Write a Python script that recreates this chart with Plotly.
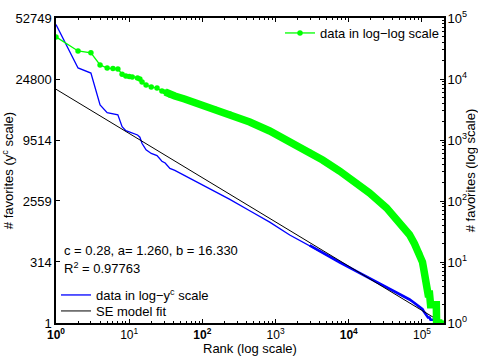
import numpy as np
import plotly.graph_objects as go

# ---- fit parameters (from the chart text) ----
c_exp = 0.28
a_fit = 1.260
b_fit = 16.330
r2_val = 0.97763

# ---- data: rank vs number of favorites ----
rank = [1, 2, 3, 4, 5, 6, 7, 8, 9, 10, 11, 13, 14, 15, 17, 20, 24, 28, 31, 36, 42,
        57, 92, 148, 237, 443, 831, 1560, 2920, 4390, 7490, 12800, 19200, 32800,
        49300, 67600, 79000, 92500, 101600, 105000, 109000, 112000, 116000,
        121000, 127000, 131000, 145000, 157000, 158500, 168000, 178000, 190000]
favorites = [49000, 28800, 26900, 17000, 15100, 14900, 14600, 12000, 11200, 11000,
             10800, 10400, 10000, 8930, 7940, 7400, 7110, 6350, 6120, 5470, 5250,
             4700, 3890, 3220, 2670, 1970, 1406, 927, 635, 470, 310, 197, 135, 77,
             45, 28, 20, 14, 10, 8, 6, 5, 4,
             3, 3, 2, 2, 2, 1, 1, 1, 1]

left_tick_labels = [1, 314, 2559, 9514, 24800, 52749]
log_tick_exps = [0, 1, 2, 3, 4, 5]
x_max = 2e5

rank = np.array(rank, dtype=float)
favorites = np.array(favorites, dtype=float)
fav_c = favorites ** c_exp
fit_x = np.array([rank[0], rank[-1]])
fit_y = b_fit - a_fit * np.log(fit_x)

band = rank >= 31
blue_band = rank >= 2900

FONT = "Liberation Sans, Arial, Helvetica, sans-serif"
GREEN = "#00ff00"
BLUE = "#0000ff"
FS = 13

fig = go.Figure()
fig.add_trace(go.Scatter(x=rank[blue_band], y=fav_c[blue_band], mode="lines",
                         line=dict(color=BLUE, width=2.6), showlegend=False,
                         hoverinfo="skip"))
fig.add_trace(go.Scatter(x=rank, y=fav_c, mode="lines",
                         name="data in log\u2212y<sup>c</sup> scale",
                         line=dict(color=BLUE, width=1.3), legend="legend2"))
fig.add_trace(go.Scatter(x=fit_x, y=fit_y, mode="lines", name="SE model fit",
                         line=dict(color="black", width=1), legend="legend3"))
fig.add_trace(go.Scatter(x=rank[band], y=favorites[band], yaxis="y2", mode="lines",
                         line=dict(color=GREEN, width=7.5), showlegend=False,
                         hoverinfo="skip"))
fig.add_trace(go.Scatter(x=rank, y=favorites, yaxis="y2", mode="lines+markers",
                         name="data in log\u2212log scale",
                         line=dict(color=GREEN, width=1.3),
                         marker=dict(color=GREEN, size=5.5), legend="legend"))

x_ticktext = []
for e in log_tick_exps:
    t = f"10<sup>{e}</sup>"
    if e in (0, 2, 4):
        t = f"<b>{t}</b>"
    x_ticktext.append(t)

minor_vals = [m * 10 ** e for e in range(0, 6) for m in range(2, 10) if m * 10 ** e <= x_max]

legend_common = dict(bgcolor="rgba(0,0,0,0)", borderwidth=0, font=dict(size=FS),
                     itemwidth=30)

fig.update_layout(
    width=478, height=357,
    margin=dict(l=56, r=34, t=18, b=34, autoexpand=False),
    paper_bgcolor="white", plot_bgcolor="white",
    font=dict(family=FONT, size=FS, color="black"),
    xaxis=dict(type="log", range=[0, np.log10(x_max)], automargin=False,
               tickmode="array", tickvals=[10 ** e for e in log_tick_exps],
               ticktext=x_ticktext, ticks="inside", ticklen=4, tickcolor="black",
               ticklabelstandoff=0, tickfont=dict(size=12),
               showline=True, linecolor="black", linewidth=1.5, mirror="ticks",
               showgrid=False, zeroline=False,
               minor=dict(tickmode="array", tickvals=minor_vals, ticks="inside",
                          ticklen=2, tickcolor="black", showgrid=False)),
    yaxis=dict(range=[1, 52749 ** c_exp], tickmode="array", automargin=False,
               tickvals=[v ** c_exp for v in left_tick_labels],
               ticktext=[str(v) for v in left_tick_labels],
               ticks="inside", ticklen=4, tickcolor="black",
               showline=True, linecolor="black", linewidth=1.5, mirror=True,
               showgrid=False, zeroline=False,
               title=dict(text="# favorites (y<sup>c</sup> scale)", standoff=5,
                          font=dict(size=FS))),
    yaxis2=dict(type="log", range=[0, 5], overlaying="y", side="right",
                automargin=False,
                tickmode="array", tickvals=[10 ** e for e in log_tick_exps],
                ticktext=[f"10<sup>{e}</sup>" for e in log_tick_exps],
                ticks="inside", ticklen=4, tickcolor="black",
                showline=True, linecolor="black", linewidth=1,
                showgrid=False, zeroline=False,
                minor=dict(tickmode="array",
                           tickvals=[m * 10 ** e for e in range(0, 5) for m in range(2, 10)],
                           ticks="inside", ticklen=2, tickcolor="black", showgrid=False),
                title=dict(text="# favorites (log scale)", standoff=4,
                           font=dict(size=FS))),
    legend=dict(x=1, xanchor="right", y=1, yanchor="top", **legend_common),
    legend2=dict(x=0.0, xanchor="left", y=(323 - 295) / 305, yanchor="middle",
                 **legend_common),
    legend3=dict(x=0.0, xanchor="left", y=(323 - 311) / 305, yanchor="middle",
                 **legend_common),
    annotations=[
        dict(xref="paper", yref="paper", x=0.0155, y=0.239, xanchor="left",
             yanchor="middle", showarrow=False,
             text=f"c = {c_exp:.2f}, a= {a_fit:.3f}, b = {b_fit:.3f}",
             font=dict(size=FS)),
        dict(xref="paper", yref="paper", x=0.0155, y=0.18, xanchor="left",
             yanchor="middle", showarrow=False,
             text=f"R<sup>2</sup> = {r2_val:.5f}", font=dict(size=FS)),
        dict(xref="paper", yref="paper", x=0.5, y=(323 - 357) / 305,
             xanchor="center", yanchor="bottom", showarrow=False, borderpad=0,
             text="Rank (log scale)", font=dict(size=FS)),
    ],
)

fig.write_html("out.html")
